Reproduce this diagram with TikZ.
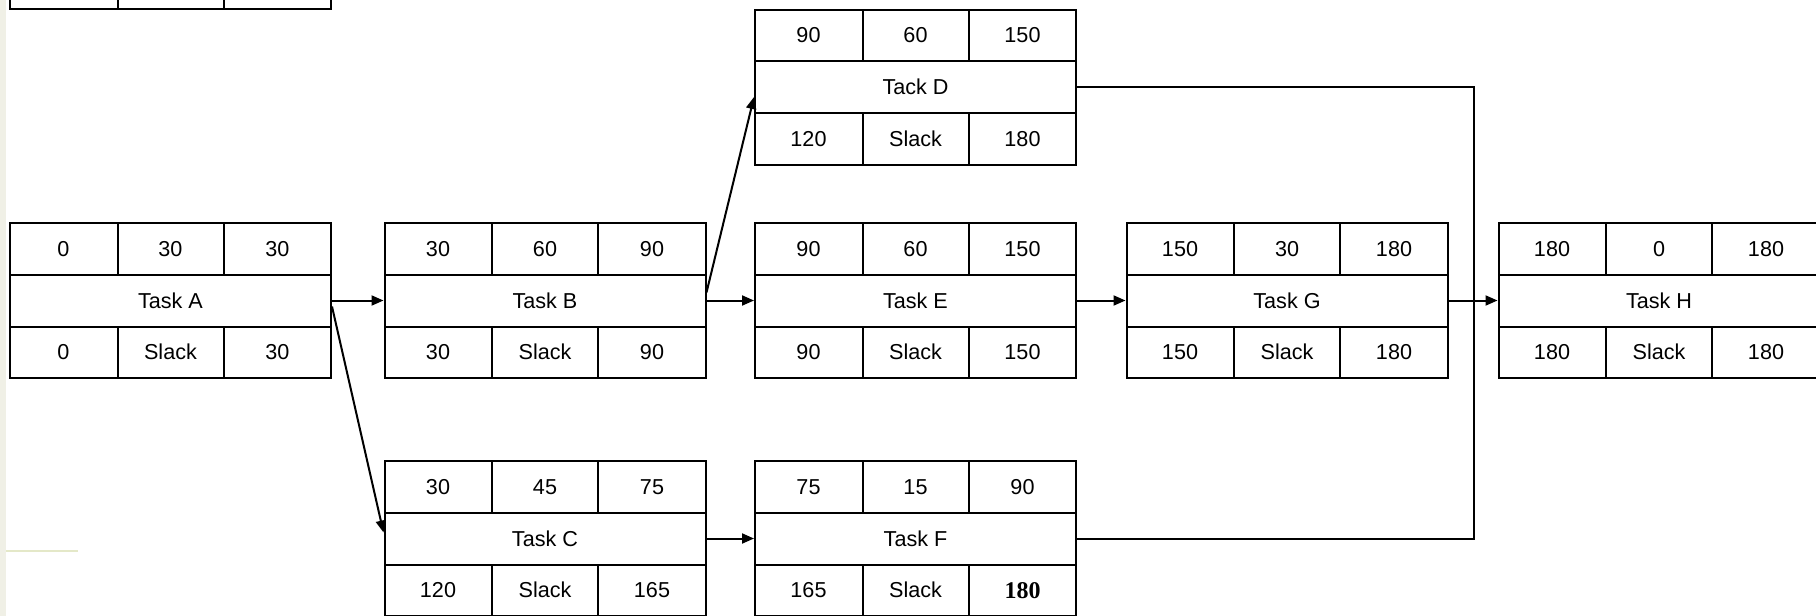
\documentclass[tikz,border=0pt]{standalone}
\usepackage{fontspec}
\setmainfont{Liberation Sans}
\newfontfamily\boldserif{Liberation Serif}
\usetikzlibrary{arrows.meta, calc}
\definecolor{stripbg}{RGB}{240,240,230}
\definecolor{faintline}{RGB}{228,232,200}

\tikzset{
  taskframe/.style={draw, line width=1pt, minimum width=160.5pt, minimum height=77.5pt, inner sep=0pt},
  gridline/.style={line width=1pt},
  cell/.style={font=\fontsize{10.8}{12}\selectfont, inner sep=0pt},
  link/.style={line width=1pt, -{Triangle[length=6pt, width=5pt]}},
  joinline/.style={line width=1pt},
}

% name, position, early start, duration, early finish, label, late start, late finish
\newcommand{\taskbox}[8]{%
  \node[taskframe] (#1) at (#2) {};
  \draw[gridline] ($(#1)+(-160.5,-26)$) -- ($(#1)+(160.5,-26)$)
    ($(#1)+(-160.5,26)$) -- ($(#1)+(160.5,26)$)
    ($(#1)+(-53,-77.5)$) -- ($(#1)+(-53,-26)$)
    ($(#1)+(53,-77.5)$) -- ($(#1)+(53,-26)$)
    ($(#1)+(-53,26)$) -- ($(#1)+(-53,77.5)$)
    ($(#1)+(53,26)$) -- ($(#1)+(53,77.5)$);
  \node[cell] (#1-es) at ($(#1)+(-107,-51.7)$) {#3};
  \node[cell] (#1-dur) at ($(#1)+(0,-51.7)$) {#4};
  \node[cell] (#1-ef) at ($(#1)+(107,-51.7)$) {#5};
  \node[cell] (#1-name) at (#1) {#6};
  \node[cell] (#1-ls) at ($(#1)+(-107,51.7)$) {#7};
  \node[cell] (#1-sl) at ($(#1)+(0,51.7)$) {Slack};
  \node[cell] (#1-lf) at ($(#1)+(107,51.7)$) {#8};
}

\begin{document}
\begin{tikzpicture}[x=0.5pt, y=-0.5pt]
\useasboundingbox (0,0) rectangle (1816,616);
\clip (0,0) rectangle (1816,616);
\fill[white] (0,0) rectangle (1816,616);
\fill[stripbg] (0,0) rectangle (6,616);
\draw[faintline, line width=1pt] (6,551) -- (78,551);

% key box, cut off at the top
\node[taskframe] (key) at (170.5,-68.5) {};
\draw[gridline] ($(key)+(-53,26)$) -- ($(key)+(-53,77.5)$)
  ($(key)+(53,26)$) -- ($(key)+(53,77.5)$);

\taskbox{A}{170.5,300.5}{0}{30}{30}{Task A}{0}{30}
\taskbox{B}{545,300.5}{30}{60}{90}{Task B}{30}{90}
\taskbox{C}{545,538.5}{30}{45}{75}{Task C}{120}{165}
\taskbox{D}{915.5,87}{90}{60}{150}{Tack D}{120}{180}
\taskbox{E}{915.5,300.5}{90}{60}{150}{Task E}{90}{150}
\taskbox{F}{915.5,538.5}{75}{15}{90}{Task F}{165}{{\boldserif\bfseries\fontsize{12}{14}\selectfont 180}}
\taskbox{G}{1287,300.5}{150}{30}{180}{Task G}{150}{180}
\taskbox{H}{1659,300.5}{180}{0}{180}{Task H}{180}{180}

\draw[link] (A.east) -- (B.west);
\draw[link] ($(A.east)+(0,6)$) -- ($(C.west)+(0,-6)$);
\draw[link] ($(B.east)+(0,-8)$) -- ($(D.west)+(0,10)$);
\draw[link] (B.east) -- (E.west);
\draw[link] (E.east) -- (G.west);
\draw[link] (C.east) -- (F.west);
\draw[link] (G.east) -- (H.west);

\coordinate (merge) at (1474,300.5);
\draw[joinline] (D.east) -| (merge);
\draw[joinline] (F.east) -| (merge);
\end{tikzpicture}
\end{document}
